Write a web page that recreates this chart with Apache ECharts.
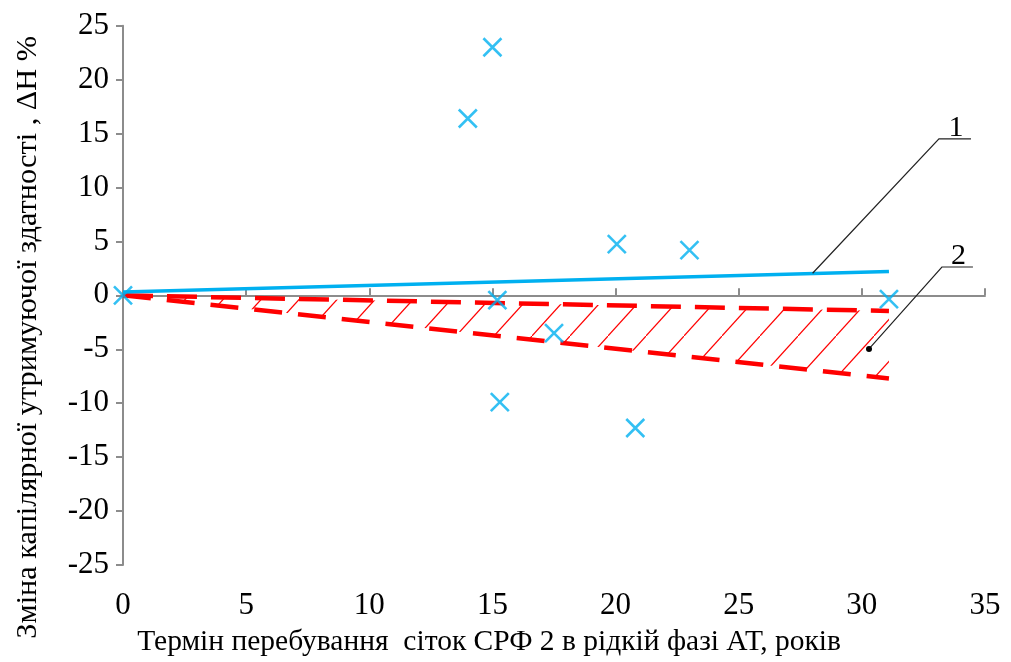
<!DOCTYPE html>
<html>
<head>
<meta charset="utf-8">
<script src="https://cdn.jsdelivr.net/npm/echarts@6/dist/echarts.min.js"></script>
<style>
html,body{margin:0;padding:0;background:#fff;}
#chart{width:1011px;height:662px;}
</style>
</head>
<body>
<div id="chart"></div>
<script>
// ---- data ----
var xTicks = [0, 5, 10, 15, 20, 25, 30, 35];
var yTicks = [-25, -20, -15, -10, -5, 0, 5, 10, 15, 20, 25];
var measX = [0, 14.0, 15.0, 15.2, 15.3, 17.5, 20.05, 20.8, 23.0, 31.1];
var measY = [0, 16.4, 23.0, -0.45, -9.9, -3.5, 4.75, -12.3, 4.2, -0.35];
var line1X = [0, 31.1];
var line1Y = [0.3, 2.2];
var bandX = [0, 31.1];
var bandUpper = [0, -1.45];
var bandLower = [0, -7.7];
var xTitle = 'Термін перебування  сіток СРФ 2 в рідкій фазі АТ, років';
var yTitle = 'Зміна капілярної утримуючої здатності , ΔН %';
// annotation anchors (data coords)
var ann1 = {label: '1', from: [28.0, 2.05], elbow: [33.13, 14.5], end: [34.43, 14.5]};
var ann2 = {label: '2', from: [30.29, -4.97], elbow: [33.25, 2.63], end: [34.51, 2.63]};

var FONT = '"Liberation Serif", "Times New Roman", serif';
var AXIS_COLOR = '#8c8c8c';
var BLUE = '#00B0F0';
var RED = '#FF0000';

// hatch pattern
var pat = document.createElement('canvas');
pat.width = 38; pat.height = 42;
var pc = pat.getContext('2d');
pc.strokeStyle = RED; pc.lineWidth = 1.2;
pc.beginPath(); pc.moveTo(-2, 42 + 2.2); pc.lineTo(40, -2.2); pc.stroke();

function zip(xs, ys){ return xs.map(function(x, i){ return [x, ys[i]]; }); }

var chart = echarts.init(document.getElementById('chart'));
var option = {
  animation: false,
  backgroundColor: '#fff',
  grid: {left: 123, right: 26, top: 25.7, bottom: 97, containLabel: false},
  xAxis: [
    {
      type: 'value', min: xTicks[0], max: xTicks[xTicks.length-1], interval: 5,
      position: 'top',
      axisLine: {show: true, onZero: true, lineStyle: {color: AXIS_COLOR, width: 2}},
      axisTick: {show: true, inside: false, length: 7, lineStyle: {color: AXIS_COLOR, width: 2}},
      axisLabel: {show: false},
      splitLine: {show: false}
    },
    {
      type: 'value', min: xTicks[0], max: xTicks[xTicks.length-1], interval: 5,
      position: 'bottom',
      axisLine: {show: false, onZero: false},
      axisTick: {show: false},
      axisLabel: {show: true, margin: 25, fontFamily: FONT, fontSize: 31, color: '#000',
        formatter: function(v){ return xTicks.indexOf(v) >= 0 ? String(v) : ''; }},
      splitLine: {show: false},
      name: xTitle, nameLocation: 'middle', nameGap: 62,
      nameTextStyle: {fontFamily: FONT, fontSize: 29.5, color: '#000', padding: [0, 130, 0, 0]}
    }
  ],
  yAxis: {
    type: 'value', min: yTicks[0], max: yTicks[yTicks.length-1], interval: 5,
    axisLine: {show: true, onZero: false, lineStyle: {color: AXIS_COLOR, width: 2}},
    axisTick: {show: true, inside: false, length: 7, lineStyle: {color: AXIS_COLOR, width: 2}},
    axisLabel: {fontFamily: FONT, fontSize: 31, color: '#000', margin: 14},
    splitLine: {show: false},
    name: yTitle, nameLocation: 'middle', nameGap: 80, nameRotate: 90,
    nameTextStyle: {fontFamily: FONT, fontSize: 30.3, color: '#000', padding: [0, 84, 0, 0]}
  },
  series: [
    {
      type: 'custom', xAxisIndex: 0, yAxisIndex: 0, z: 1,
      data: [[bandX[0], bandUpper[0]]],
      renderItem: function(params, api){
        var pts = [];
        for (var i = 0; i < bandX.length; i++) pts.push(api.coord([bandX[i], bandUpper[i]]));
        for (var j = bandX.length - 1; j >= 0; j--) pts.push(api.coord([bandX[j], bandLower[j]]));
        return {type: 'polygon', shape: {points: pts},
          style: {fill: {image: pat, repeat: 'repeat'}, stroke: null}};
      },
      silent: true
    },
    {
      type: 'line', xAxisIndex: 0, z: 3, data: zip(bandX, bandUpper), showSymbol: false, symbol: 'none',
      lineStyle: {color: RED, width: 4.5, type: [30, 14]}
    },
    {
      type: 'line', xAxisIndex: 0, z: 3, data: zip(bandX, bandLower), showSymbol: false, symbol: 'none',
      lineStyle: {color: RED, width: 4.5, type: [28, 16]}
    },
    {
      type: 'line', xAxisIndex: 0, z: 4, data: zip(line1X, line1Y), showSymbol: false, symbol: 'none',
      lineStyle: {color: BLUE, width: 3.5}
    },
    {
      type: 'scatter', xAxisIndex: 0, z: 5, data: zip(measX, measY),
      symbol: 'path://M0 0L10 10M10 0L0 10', symbolSize: 18,
      itemStyle: {color: 'rgba(0,0,0,0)', borderColor: BLUE, borderWidth: 2.6}
    }
  ]
};
chart.setOption(option);

function annGraphics(a){
  var p0 = chart.convertToPixel({xAxisIndex: 0, yAxisIndex: 0}, a.from);
  var p1 = chart.convertToPixel({xAxisIndex: 0, yAxisIndex: 0}, a.elbow);
  var p2 = chart.convertToPixel({xAxisIndex: 0, yAxisIndex: 0}, a.end);
  return [
    {type: 'polyline', shape: {points: [p0, p1, p2]}, style: {stroke: '#222', lineWidth: 1.2, fill: null}, z: 10},
    {type: 'text', x: (p1[0] + p2[0]) / 2 + 1, y: p1[1] + 4,
      style: {text: a.label, font: '30px ' + FONT, fill: '#000', align: 'center', verticalAlign: 'bottom'}, z: 10}
  ];
}
var g = annGraphics(ann1).concat(annGraphics(ann2));
var dot = chart.convertToPixel({xAxisIndex: 0, yAxisIndex: 0}, ann2.from);
g.push({type: 'circle', shape: {cx: dot[0], cy: dot[1], r: 3}, style: {fill: '#000'}, z: 11});
chart.setOption({graphic: g});
</script>
</body>
</html>
